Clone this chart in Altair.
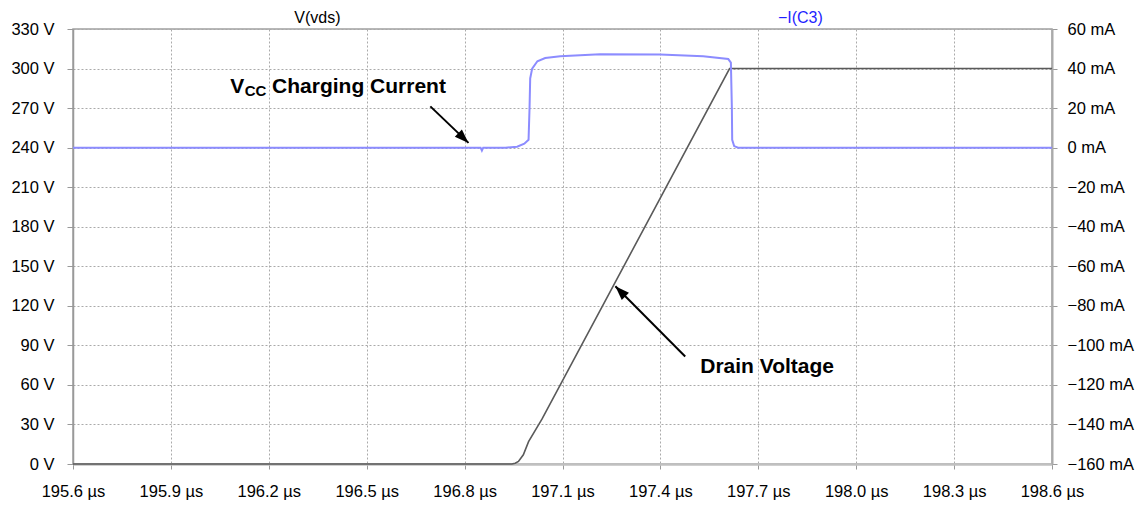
import altair as alt
import pandas as pd

FONT = "Liberation Sans"

# ---- V(vds) trace (time in µs, volts)
V_T = [195.6, 196.945, 196.955, 196.965, 196.98, 196.996, 197.037, 197.612, 198.6]
V_V = [0, 0, 0.6, 1.9, 7, 17, 34, 300, 300]

# ---- -I(C3) trace (time in µs, mA)
I_T = [195.6, 196.849, 196.853, 196.857, 196.925, 196.961, 196.983, 196.996, 196.999,
       197.001, 197.007, 197.023, 197.047, 197.093, 197.215, 197.399, 197.531, 197.608,
       197.616, 197.619, 197.620, 197.626, 197.638, 198.6]
I_V = [0, 0, -1.5, 0, 0, 0.5, 2, 4, 20,
       35, 40, 43.7, 45.3, 46.2, 47.2, 47.1, 46.2, 44.8,
       43, 20, 4, 0.8, 0, 0]

# ---- ticks
X_TICKS = [195.6, 195.9, 196.2, 196.5, 196.8, 197.1, 197.4, 197.7, 198.0, 198.3, 198.6]
V_TICKS = [0, 30, 60, 90, 120, 150, 180, 210, 240, 270, 300, 330]
I_TICKS = [-160, -140, -120, -100, -80, -60, -40, -20, 0, 20, 40, 60]

# ---- series labels (above the plot)
SER_TEXT = ["V(vds)", "\u2212I(C3)"]
SER_X = [196.349, 197.829]
SER_Y = [338.3, 338.3]
SER_COLOR = ["black", "#1f1fff"]

# ---- annotations
ANN_TEXT = ["V", "Charging Current", "Drain Voltage"]
ANN_X = [196.082, 196.210, 197.522]
ANN_Y = [281.7, 281.7, 69.3]
SUB_TEXT = ["CC"]
SUB_X = [196.126]
SUB_Y = [278.9]

# ---- arrows
ARR_X0 = [196.695, 197.476]
ARR_Y0 = [271.3, 81.6]
ARR_X1 = [196.812, 197.262]
ARR_Y1 = [243.6, 134.8]
ARR_ANGLE = [134, 315]

vdf = pd.DataFrame({"t": V_T, "v": V_V})
idf = pd.DataFrame({"t": I_T, "i": I_V})
ser = pd.DataFrame({"t": SER_X, "v": SER_Y, "txt": SER_TEXT, "col": SER_COLOR})
ann = pd.DataFrame({"t": ANN_X, "v": ANN_Y, "txt": ANN_TEXT})
sub = pd.DataFrame({"t": SUB_X, "v": SUB_Y, "txt": SUB_TEXT})
arr = pd.DataFrame({"t": ARR_X0, "v": ARR_Y0, "t2": ARR_X1, "v2": ARR_Y1, "ang": ARR_ANGLE})

xscale = alt.Scale(domain=[195.6, 198.6], nice=False, zero=False)
vscale = alt.Scale(domain=[0, 330], nice=False, zero=False)
iscale = alt.Scale(domain=[-160, 60], nice=False, zero=False)

x_axis = alt.Axis(values=X_TICKS, format=".1f", labelExpr="datum.label + ' \u00b5s'",
                  title=None, grid=True, gridDash=[2, 2], gridColor="#aaaaaa", gridWidth=1,
                  tickSize=5, tickColor="#999999", labelPadding=14,
                  domainColor="#c0c0c0", domainWidth=2.5,
                  labelFontSize=16.5, labelFont=FONT, labelColor="black",
                  labelFlush=False, labelOverlap=False)
v_axis = alt.Axis(values=V_TICKS, labelExpr="datum.value + ' V'", title=None,
                  grid=True, gridDash=[2, 2], gridColor="#aaaaaa", gridWidth=1,
                  tickSize=6, tickColor="#999999", labelPadding=13,
                  domainColor="#999999", domainWidth=1.5,
                  labelFontSize=16.5, labelFont=FONT, labelColor="black",
                  labelOverlap=False)
i_axis = alt.Axis(values=I_TICKS, orient="right", format="d", labelExpr="datum.label + ' mA'",
                  title=None, grid=False, tickSize=5, tickColor="#999999", labelPadding=10,
                  domainColor="#aaaaaa", domainWidth=2,
                  labelFontSize=16.5, labelFont=FONT, labelColor="black",
                  labelOverlap=False)


def X(field="t"):
    return alt.X(f"{field}:Q", scale=xscale, axis=x_axis)


def YV(field="v"):
    return alt.Y(f"{field}:Q", scale=vscale, axis=v_axis)


v_line = alt.Chart(vdf).mark_line(color="#5a5a5a", strokeWidth=1.6).encode(
    x=X(), y=YV(), order="t:Q")

ser_text = alt.Chart(ser).mark_text(font=FONT, fontSize=16, align="center",
                                    baseline="middle").encode(
    x=X(), y=YV(), text="txt:N", color=alt.Color("col:N", scale=None))

ann_text = alt.Chart(ann).mark_text(font=FONT, fontSize=21, fontWeight="bold",
                                    align="left", baseline="alphabetic", color="black").encode(
    x=X(), y=YV(), text="txt:N")

sub_text = alt.Chart(sub).mark_text(font=FONT, fontSize=15, fontWeight="bold",
                                    align="left", baseline="alphabetic", color="black").encode(
    x=X(), y=YV(), text="txt:N")

arr_shaft = alt.Chart(arr).mark_rule(color="black", strokeWidth=2).encode(
    x=X(), y=YV(), x2="t2:Q", y2="v2:Q")

arr_head = alt.Chart(arr).mark_point(shape="M0,0L-0.36,1L0.36,1Z", filled=True,
                                     size=800, color="black", opacity=1).encode(
    x=X("t2"), y=YV("v2"), angle=alt.Angle("ang:Q", scale=None))

voltage_group = alt.layer(v_line, ser_text, ann_text, sub_text, arr_shaft, arr_head)

i_line = alt.Chart(idf).mark_line(color="#8c8cff", strokeWidth=2).encode(
    x=X(), y=alt.Y("i:Q", scale=iscale, axis=i_axis), order="t:Q")

chart = alt.layer(voltage_group, i_line).resolve_scale(y="independent").properties(
    width=979, height=435,
    autosize=alt.AutoSizeParams(type="none"),
    padding={"left": 65, "top": 21, "right": 85, "bottom": 36},
    background="white",
).configure_view(stroke="#a0a0a0", strokeWidth=1.5)

chart.save("out.html", embed_options={"renderer": "svg", "actions": False})
